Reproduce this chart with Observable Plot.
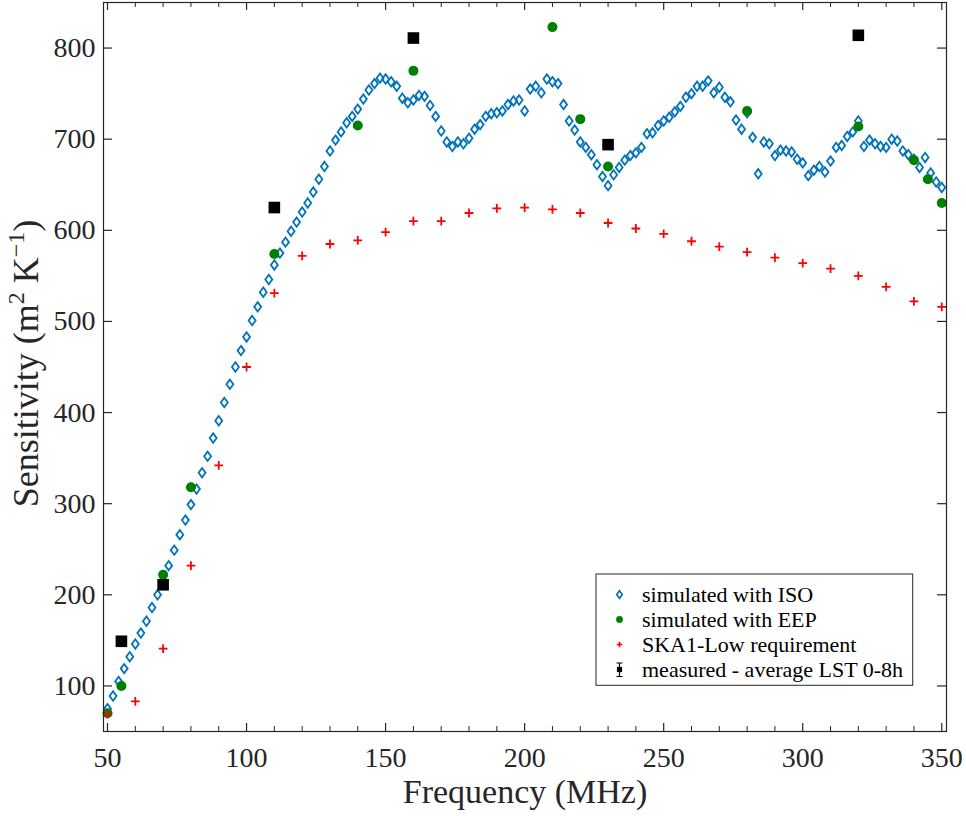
<!DOCTYPE html>
<html><head><meta charset="utf-8">
<script src="https://cdn.jsdelivr.net/npm/d3@7"></script>
<script src="https://cdn.jsdelivr.net/npm/@observablehq/plot@0.6"></script>
<style>body{margin:0;background:#fff} #chart{width:966px;height:816px}</style>
</head><body><div id="chart"></div>
<script>
// ---- data ----
const isoFreq = [50,52,54,56,58,60,62,64,66,68,70,72,74,76,78,80,82,84,86,88,90,92,94,96,98,
  100,102,104,106,108,110,112,114,116,118,120,122,124,126,128,130,132,134,136,138,140,142,144,146,148,
  150,152,154,156,158,160,162,164,166,168,170,172,174,176,178,180,182,184,186,188,190,192,194,196,198,
  200,202,204,206,208,210,212,214,216,218,220,222,224,226,228,230,232,234,236,238,240,242,244,246,248,
  250,252,254,256,258,260,262,264,266,268,270,272,274,276,278,280,282,284,286,288,290,292,294,296,298,
  300,302,304,306,308,310,312,314,316,318,320,322,324,326,328,330,332,334,336,338,340,342,344,346,348,350];
const isoSens = [75,89,105,119,132,146,158,171,186,200,216,232,249,266,282,299,316,334,352,372,391,411,431,450,468,
  483,501,516,532,546,562,575,587,599,609,620,630,642,656,670,687,699,708,718,725,733,744,754,761,767,
  766,763,758,745,740,743,748,747,737,725,709,697,692,697,695,701,711,716,725,728,729,731,738,742,743,
  731,755,758,751,766,763,761,738,720,710,697,691,683,672,659,649,661,669,677,682,685,691,706,707,715,
  720,724,730,736,746,750,758,758,764,751,757,746,741,721,711,729,702,662,697,695,682,688,687,686,678,
  674,660,666,670,664,676,691,693,703,708,720,692,699,695,692,691,700,698,687,683,678,669,680,663,653,647];
const eepFreq = [50,55,70,80,110,140,160,210,220,230,280,320,340,345,350];
const eepSens = [70,100,222,318,574,715,775,823,722,670,731,714,677,656,630];
const skaFreq = [50,60,70,80,90,100,110,120,130,140,150,160,170,180,190,200,210,220,230,240,250,260,270,280,290,300,310,320,330,340,350];
const skaSens = [69,83,141,232,342,450,531,572,585,589,598,610,610,619,624,625,623,619,608,602,596,588,582,576,570,564,558,550,538,522,516];
const measFreq = [55,70,110,160,230,320];
const measSens = [149,211,625,811,694,814];
const xTicks = [50,100,150,200,250,300,350];
const xMinorTicks = [60,70,80,90,110,120,130,140,160,170,180,190,210,220,230,240,260,270,280,290,310,320,330,340];
const yTicks = [100,200,300,400,500,600,700,800];
const legendLabels = ["simulated with ISO","simulated with EEP","SKA1-Low requirement","measured - average LST 0-8h"];

const W = 966, H = 816, mL = 103, mR = 20, mT = 2, mB = 85;
const fw = W - mL - mR, fh = H - mT - mB;
const blue = "#0072BD", green = "#008000", red = "#FF0000", ink = "#262626";
const serif = "'Liberation Serif', 'Times New Roman', serif";

const diamondSym = {draw(ctx, size){const r = Math.sqrt(size/Math.PI), w = r*0.74; ctx.moveTo(0,-r); ctx.lineTo(w,0); ctx.lineTo(0,r); ctx.lineTo(-w,0); ctx.closePath();}};
const plusSym = {draw(ctx, size){const r = Math.sqrt(size/Math.PI); ctx.moveTo(-r,0); ctx.lineTo(r,0); ctx.moveTo(0,-r); ctx.lineTo(0,r);}};
const squareSym = {draw(ctx, size){const r = Math.sqrt(size/Math.PI); ctx.rect(-r,-r,2*r,2*r);}};

const iso = isoFreq.map((f,i)=>({f, v: isoSens[i]}));
const eep = eepFreq.map((f,i)=>({f, v: eepSens[i]}));
const ska = skaFreq.map((f,i)=>({f, v: skaSens[i]}));
const meas = measFreq.map((f,i)=>({f, v: measSens[i]}));

const chart = Plot.plot({
  width: W, height: H,
  marginLeft: mL, marginRight: mR, marginTop: mT, marginBottom: mB,
  style: {fontFamily: serif, color: ink, background: "#fff"},
  x: {domain: [48.56, 351.7]},
  y: {domain: [50, 850]},
  marks: [
    Plot.dot(iso, {x: "f", y: "v", symbol: diamondSym, r: 4.7, stroke: blue, strokeWidth: 1.8, fill: "none"}),
    Plot.dot(eep, {x: "f", y: "v", symbol: "circle", r: 5, fill: green, stroke: "none"}),
    Plot.dot(ska, {x: "f", y: "v", symbol: plusSym, r: 4.4, stroke: red, strokeWidth: 1.8, fill: "none"}),
    Plot.dot(meas, {x: "f", y: "v", symbol: squareSym, r: 5.8, fill: "#000", stroke: "none"}),
    Plot.frame({stroke: ink, strokeWidth: 1.2}),
    // inward ticks: bottom and top
    Plot.tickX(xTicks, {x: d=>d, insetTop: fh - 8, stroke: ink, strokeWidth: 1.2}),
    Plot.tickX(xTicks, {x: d=>d, insetBottom: fh - 8, stroke: ink, strokeWidth: 1.2}),
    Plot.tickX(xMinorTicks, {x: d=>d, insetTop: fh - 5, stroke: ink, strokeWidth: 1}),
    Plot.tickX(xMinorTicks, {x: d=>d, insetBottom: fh - 5, stroke: ink, strokeWidth: 1}),
    // inward ticks: left and right
    Plot.tickY(yTicks, {y: d=>d, insetRight: fw - 9, stroke: ink, strokeWidth: 1.2}),
    Plot.tickY(yTicks, {y: d=>d, insetLeft: fw - 9, stroke: ink, strokeWidth: 1.2}),
    Plot.axisX({ticks: xTicks, tickSize: 0, tickPadding: 16, fontSize: 28, label: null, fill: ink}),
    Plot.axisY({ticks: yTicks, tickSize: 0, tickPadding: 8, fontSize: 28, label: null, fill: ink}),
    Plot.text(["Frequency (MHz)"], {frameAnchor: "bottom", dy: 71, fontSize: 34, fill: ink})
  ]
});
document.getElementById("chart").appendChild(chart);

// y-axis label with superscripts
const svg = d3.select(chart);
const yl = svg.append("text")
  .attr("transform", `translate(38,${(mT + H - mB)/2 - 3}) rotate(-90)`)
  .attr("text-anchor", "middle")
  .attr("font-family", serif)
  .attr("font-size", 36).attr("fill", ink);
yl.append("tspan").text("Sensitivity (m");
yl.append("tspan").attr("font-size", 24).attr("dy", -14).text("2");
yl.append("tspan").attr("dy", 14).text(" K");
yl.append("tspan").attr("font-size", 24).attr("dy", -14).text("\u2212");
yl.append("tspan").attr("font-size", 24).text("1");
yl.append("tspan").attr("dy", 14).text(")");

// legend
const lg = svg.append("g").attr("font-family", serif).attr("font-size", 22).attr("fill", "#000").attr("text-anchor", "start");
lg.append("rect").attr("x", 596).attr("y", 574).attr("width", 316.7).attr("height", 111.3)
  .attr("fill", "#fff").attr("stroke", ink).attr("stroke-width", 1);
const rows = [594.5, 619.5, 644.5, 669.5];
const mx = 619.5, tx = 642;
lg.append("path").attr("d", `M${mx},${rows[0]-3.8}L${mx+2.8},${rows[0]}L${mx},${rows[0]+3.8}L${mx-2.8},${rows[0]}Z`)
  .attr("fill", "none").attr("stroke", blue).attr("stroke-width", 1.6);
lg.append("circle").attr("cx", mx).attr("cy", rows[1]).attr("r", 3.4).attr("fill", green);
lg.append("path").attr("d", `M${mx-2.8},${rows[2]}H${mx+2.8}M${mx},${rows[2]-2.8}V${rows[2]+2.8}`)
  .attr("stroke", red).attr("stroke-width", 1.6);
lg.append("path").attr("d", `M${mx},${rows[3]-6.5}V${rows[3]+7}M${mx-3},${rows[3]-6.5}H${mx+3}M${mx-3},${rows[3]+7}H${mx+3}`)
  .attr("stroke", "#000").attr("stroke-width", 1.2);
lg.append("rect").attr("x", mx-2.6).attr("y", rows[3]-2.6).attr("width", 5.2).attr("height", 5.2).attr("fill", "#000");
legendLabels.forEach((t, i) => {
  lg.append("text").attr("x", tx).attr("y", rows[i]).attr("dy", "0.33em").attr("text-anchor", "start").text(t);
});
</script>
</body></html>
